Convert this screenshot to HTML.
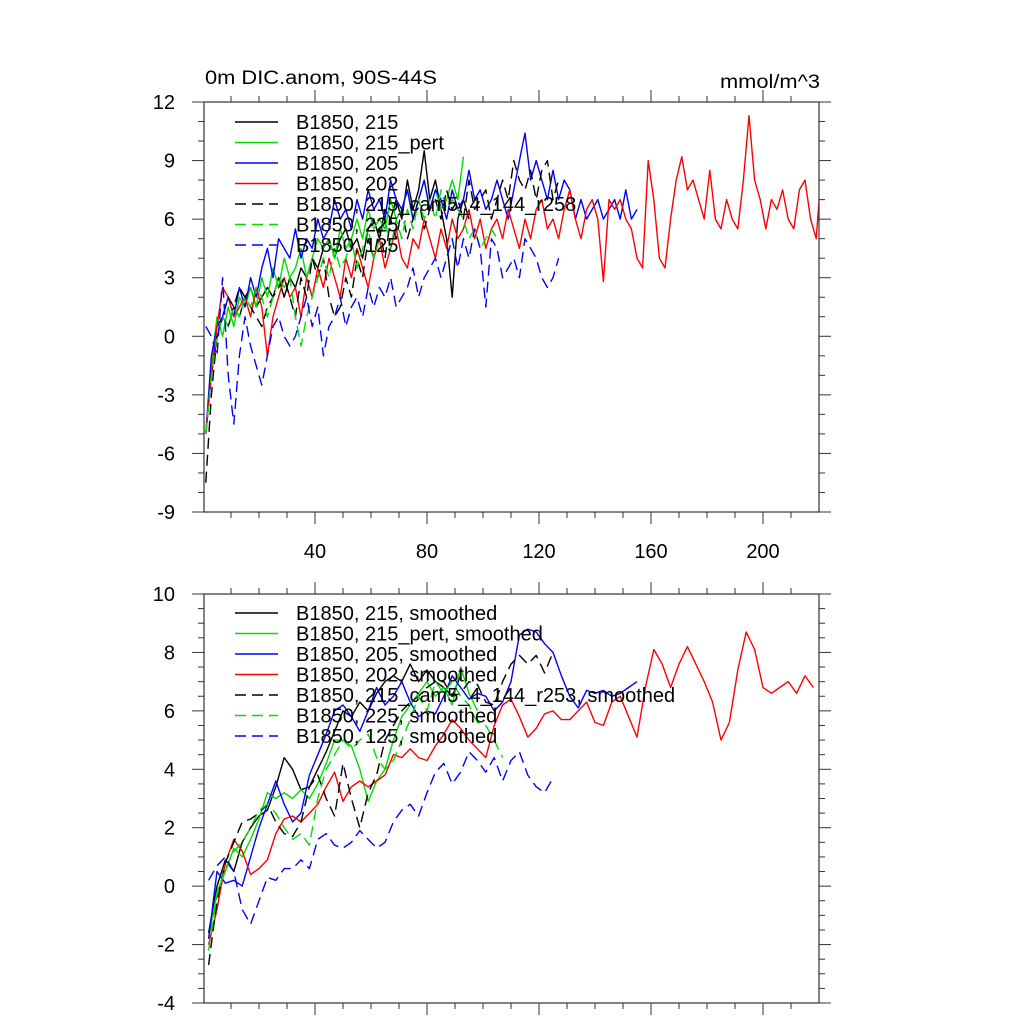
<!DOCTYPE html>
<html><head><meta charset="utf-8"><style>
body{margin:0;background:#fff;}
svg text{font-family:"Liberation Sans",sans-serif;}
</style></head><body>
<svg id="chart" width="1024" height="1024" xmlns="http://www.w3.org/2000/svg"></svg>
<script>
// ---- Top panel data (x = start + step*i) ----
const topNames = ["B1850, 215","B1850, 215_pert","B1850, 205","B1850, 202","B1850, 215_cam5_4_144_r258","B1850, 225","B1850, 125"];
const topColors = ["#000","#0d0","#00f","#f00","#000","#0d0","#00f"];
const topDashed = [false,false,false,false,true,true,true];
const topBlack = [-5,-2,0,1,0.5,1.5,1,2,2.5,1.5,2,2.5,2,3,2,3,2.5,3.5,3,4,3.5,4.5,5,4,5,5.5,4.5,5,4,5.5,6,5,6.5,6,7,6,8,6.5,7.5,9.5,7,8,6.5,5,2,6,7,6];
const topGreen = [-5,-1.5,1,0,1.5,0.5,2,1.5,2.5,1.5,3,2,3.5,2.5,4,3,3.5,4.5,3,4,5,4.5,5,4,5.5,4.5,5,6,5,6.5,5.5,6,5.5,7,6,6.5,7.5,6,7,8,6.5,7.5,6.5,7,8,7,9.2];
const topBlue = [-5,-1,0.5,1,2,1,2.5,1.5,3,2,3.5,4.5,3,5,4.5,4,5.5,4,5,4.5,6,5,5.5,7,6,6.5,5.5,7,6,7.5,6.5,7,6,8,7,6.5,7.5,6,7,8,6.5,7.5,7,6,7.5,6.5,7,8.5,7,7.5,6.5,7,8,7,6,7.5,9,10.4,8,9,8,7,8.5,7,8,7.5,6,7,6,6.5,7,6,6.5,7,6,7.5,6,6.5];
const topRed = [-5,-2,0.5,2.5,2,1,1.5,2,1,2.5,1.5,-1,1,2,3,2,2.5,1,3,2,3.5,2.5,4,3,2,4,3,4.5,3.5,2.5,4,5,3.5,4.5,5.5,4,3.5,5,4.5,6,5,4,5.5,4.5,6,5,5.5,6.5,5,6,4.5,5.5,6,5,6.5,5.5,4.5,6,5,6.5,7,5.5,6,5,6.5,7.5,6,5,6.5,7,6,2.8,7,6.5,7,6,5.5,4,3.5,9,7,4,3.5,6,8,9.2,7.5,8,7,6,8.5,6,5.5,7,6,5.5,8,11.3,8,7,5.5,7,6.5,7.5,6,5.5,7.5,8,6,5,8.8,6];
const topBlackD = [-7.5,-3,0,1,2,1.5,2.5,2,1.5,1,0.5,1.5,2,2.5,3,2,1,3,2,4,3,4,2,1,1.5,3,2,4,3,5,4,5.5,4,6,5,6.5,5,6,7,5.5,6.5,7,6,7.5,6.5,7,6,8,6.5,7,7.5,6,7,8,7,9,8,7.5,8.5,7,8.5,9,7,8];
const topGreenD = [-5,-2,0,1,0.5,1.5,1,2,1.5,2.5,2,1,2,3,2.5,3,1,-0.5,1,2,3,4,3,4.5,3.5,4,5,3.5,4.5,5.5,4,5,6,4.5,6,5,6.5,5.5,7,6,7,6,7.5,6.5,7,6.5,6,5,5.5,4.5,5,5.5,5];
const topBlueD = [0.5,0,-1,3,-2,-4.5,-1,1,-0.5,-1.5,-2.5,-1,0.5,1,0,-0.5,0,1,2,0.5,1.5,-1,0.5,1,2,0.5,1.5,2,1,2.5,1.5,2.5,2,3,1.5,2,2.5,3.5,2,3,3.5,4,3,4,5,3.5,5,4,5.5,4.5,1.5,5,4.5,3,3.5,4,3,5,4.5,4,3,2.5,3,4];
const topSeries = [topBlack,topGreen,topBlue,topRed,topBlackD,topGreenD,topBlueD];
const topYTicks = [-9,-6,-3,0,3,6,9,12];
const xTickLabels = [40,80,120,160,200];
// ---- Bottom panel data (smoothed, x = 2 + 3*i) ----
const botNames = ["B1850, 215, smoothed","B1850, 215_pert, smoothed","B1850, 205, smoothed","B1850, 202, smoothed","B1850, 215_cam5_4_144_r253, smoothed","B1850, 225, smoothed","B1850, 125, smoothed"];
const botBlack = [-1.6,0,0.9,0.5,1.5,2.0,2.4,2.6,3.4,4.4,4.0,3.3,3.4,4.0,4.6,5.3,6.0,5.8,6.3,6.0,6.6,7.0,7.2,7.0,7.6,7.0,7.4,7.0,6.8,6.5,7.2];
const botGreen = [-1.8,-0.2,0.5,1.3,1.0,1.6,2.3,3.2,3.0,3.2,3.0,3.3,3.0,3.5,4.2,5.0,5.0,4.8,4.0,2.9,3.6,4.0,5.0,5.8,6.2,6.6,7.0,6.5,6.8,6.2,7.5,6.6,6.0];
const botBlue = [-1.8,0.5,0.1,0.2,0,1,2,2.8,3.6,2.8,2.2,2.5,3.8,4.5,5.2,6.0,6.2,5.8,5.3,6.0,6.8,6.2,6.5,7.0,6.3,5.8,6.0,5.9,6.5,7.2,6.8,6.4,6.6,6.5,6.0,6.3,7.0,8.6,8.8,8.7,8.3,8.0,7.2,6.5,6.1,6.7,6.6,6.7,6.5,6.6,6.8,7.0];
const botRed = [-2,-0.8,0.8,1.6,1.2,0.4,0.6,0.9,1.8,2.3,2.4,2.2,2.5,2.8,3.4,3.9,2.9,3.4,3.6,3.4,3.6,3.8,4.5,4.4,4.7,4.4,4.3,4.8,5.2,5.7,5.4,5.0,4.7,4.4,5.5,6.2,6.4,5.8,5.1,5.4,5.9,6.0,5.7,5.7,6.0,6.3,5.6,5.5,6.3,6.5,5.8,5.1,6.8,8.1,7.6,6.8,7.6,8.2,7.6,7.0,6.3,5.0,5.6,7.4,8.7,8.1,6.8,6.6,6.8,7.0,6.6,7.2,6.8];
const botBlackD = [-2.7,-0.5,0.8,1.5,2.2,2.3,2.5,2.8,2.2,1.8,1.7,2.2,3.4,3.8,3.0,2.4,4.2,3.0,2.0,3.2,3.8,5.0,5.5,6.0,6.3,6.5,6.8,7.0,7.0,6.5,6.6,7.0,6.9,6.3,6.2,7.0,7.6,7.9,7.6,7.9,7.3,8.0];
const botGreenD = [-2.2,-0.3,0.6,1.2,1.5,2.0,2.6,2.8,2.5,2.0,1.6,1.8,1.4,3.0,4.0,4.5,5.0,4.7,5.0,5.2,4.4,4.0,4.3,5.0,5.7,6.5,6.0,7.0,6.6,7.0,6.5,6.2,5.6,5.5,5.0,4.4];
const botBlueD = [0.2,0.7,1.0,0.5,-0.8,-1.3,-0.5,0.3,0.2,0.6,0.6,0.9,0.6,1.6,1.8,1.4,1.3,1.5,1.9,1.6,1.3,1.5,2.2,2.6,2.8,2.4,3.2,3.9,4.2,3.5,3.9,4.6,4.3,3.9,4.4,3.6,4.3,4.6,3.8,3.4,3.2,3.7];
const botSeries = [botBlack,botGreen,botBlue,botRed,botBlackD,botGreenD,botBlueD];
const botYTicks = [-4,-2,0,2,4,6,8,10];

const NS="http://www.w3.org/2000/svg";
const svg=document.getElementById('chart');
function mk(tag,attrs,parent){const e=document.createElementNS(NS,tag);for(const k in attrs)e.setAttribute(k,attrs[k]);(parent||svg).appendChild(e);return e;}

function panel(cfg){
  const {top,bottom,ymin,ymax,yMajor,yMinor,series,names,start,step,legendY,prefix,yticks,showX}=cfg;
  const L=204,R=819;
  const xs=v=>203+v*2.8;
  const ys=v=>bottom-(v-ymin)/(ymax-ymin)*(bottom-top);
  const g=mk('g',{});
  
  
  const cid=prefix+'-clip';
  const cp=mk('clipPath',{id:cid},g);mk('rect',{x:L,y:top,width:R-L,height:bottom-top},cp);
  const sg=mk('g',{'clip-path':'url(#'+cid+')'},g);
  series.forEach((arr,si)=>{
    const pts=arr.map((v,i)=>xs(start+step*i).toFixed(1)+','+ys(v).toFixed(1)).join(' ');
    const p=mk('polyline',{points:pts,fill:'none',stroke:topColors[si],'stroke-width':1.4,'stroke-linejoin':'round'},sg);
    if(topDashed[si])p.setAttribute('stroke-dasharray','11,6');
    
    
  });
  const fr=mk('rect',{x:L,y:top,width:R-L,height:bottom-top,fill:'none',stroke:'#333','stroke-width':1.2},g);
  
  
  for(let v=ymin;v<=ymax+1e-9;v+=yMinor){
    const y=ys(v);const maj=Math.abs(v/yMajor-Math.round(v/yMajor))<1e-6;const len=maj?12:6;
    mk('line',{x1:L,x2:L-len,y1:y,y2:y,stroke:'#333'},g);
    mk('line',{x1:R,x2:R+len,y1:y,y2:y,stroke:'#333'},g);
  }
  yticks.forEach(v=>{
    const t=mk('text',{x:L-29,y:ys(v)+7,'text-anchor':'end','font-size':20},g);t.textContent=v;
    
    
  });
  for(let v=10;v<=210;v+=10){
    const x=xs(v);const len=(v%40===0)?12:6;
    mk('line',{x1:x,x2:x,y1:bottom,y2:bottom+len,stroke:'#333'},g);
    mk('line',{x1:x,x2:x,y1:top,y2:top-len,stroke:'#333'},g);
  }
  if(showX) xTickLabels.forEach(v=>{
    const t=mk('text',{x:xs(v),y:bottom+46,'text-anchor':'middle','font-size':20},g);t.textContent=v;
    
    
  });
  names.forEach((n,i)=>{
    const y=legendY+i*20.5;
    const ln=mk('line',{x1:235,x2:278,y1:y,y2:y,stroke:topColors[i],'stroke-width':1.4},g);
    if(topDashed[i])ln.setAttribute('stroke-dasharray','11,6');
    
    
    const t=mk('text',{x:296,y:y+7,'font-size':20},g);t.textContent=n;
    
    
  });
}
panel({top:102,bottom:512,ymin:-9,ymax:12,yMajor:3,yMinor:1,series:topSeries,names:topNames,start:1,step:2,legendY:122,prefix:'top',yticks:topYTicks,showX:true});
panel({top:594,bottom:1003,ymin:-4,ymax:10,yMajor:2,yMinor:0.5,series:botSeries,names:botNames,start:2,step:3,legendY:613,prefix:'bottom',yticks:botYTicks,showX:false});
const t1=mk('text',{x:205,y:84,'font-size':19,textLength:232,lengthAdjust:'spacingAndGlyphs'});t1.textContent='0m DIC.anom, 90S-44S';


const t2=mk('text',{x:720,y:88,'font-size':19,textLength:100,lengthAdjust:'spacingAndGlyphs'});t2.textContent='mmol/m^3';


</script>
</body></html>
